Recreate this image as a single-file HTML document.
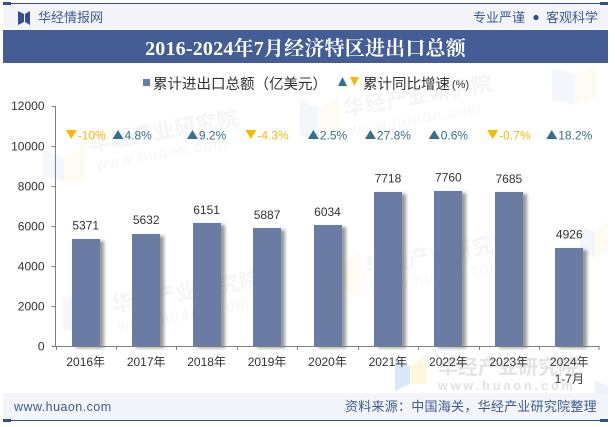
<!DOCTYPE html>
<html lang="zh">
<head>
<meta charset="utf-8">
<title>2016-2024年7月经济特区进出口总额</title>
<style>
html,body{margin:0;padding:0;background:#fff;}
body{width:615px;height:427px;overflow:hidden;position:relative;}
svg{position:absolute;left:0;top:0;display:block;}
text{font-family:"Liberation Sans","Noto Sans CJK SC",sans-serif;}
</style>
</head>
<body>
<svg id="chart" width="615" height="427" viewBox="0 0 615 427" xmlns="http://www.w3.org/2000/svg">
  <defs>
    <filter id="barShadow" x="-20%" y="-5%" width="160%" height="110%">
      <feDropShadow dx="4" dy="2" stdDeviation="1.6" flood-color="#555" flood-opacity="0.6"/>
    </filter>
  </defs>

  <g id="watermarks">
    <g>
      <polygon points="43,150 64,158 64,182 43,175" fill="#f3f7fc"/>
      <polygon points="64,158 85,145 85,180 64,182" fill="#fefcf2"/>
    </g>
    <g>
      <polygon points="300,100 318,108 318,140 300,135" fill="#f3f7fc"/>
      <polygon points="318,108 338,96 338,132 318,140" fill="#fefcf2"/>
    </g>
    <g>
      <polygon points="63,295 82,302 82,330 63,330" fill="#f4f8fc"/>
    </g>
    <g>
      <polygon points="343,262 361,252 361,297 343,290" fill="#fefcf2"/>
    </g>
    <g>
      <polygon points="580,225 595,232 595,258 580,252" fill="#f3f7fc"/>
      <polygon points="595,232 608,220 608,250 595,258" fill="#fefcf2"/>
    </g>
    <g>
      <polygon points="552,68 575,74 575,105 552,100" fill="#f3f7fc"/>
      <polygon points="575,74 597,64 597,98 575,105" fill="#fefcf2"/>
    </g>
    <g transform="rotate(-10 91 151)">
      <text x="91" y="151" font-size="21" font-weight="700" fill="#f5f5f5" letter-spacing="0.6">华经产业研究院</text>
      <text x="93" y="171" font-size="16" fill="#f6f6f6" letter-spacing="1.3">www.huaon.com</text>
    </g>
    <g transform="rotate(-10 345 116)">
      <text x="345" y="116" font-size="21" font-weight="700" fill="#f5f5f5" letter-spacing="0.6">华经产业研究院</text>
      <text x="347" y="136" font-size="16" fill="#f6f6f6" letter-spacing="1.3">www.huaon.com</text>
    </g>
    <g transform="rotate(-10 113 312)">
      <text x="113" y="312" font-size="21" font-weight="700" fill="#f5f5f5" letter-spacing="0.6">华经产业研究院</text>
      <text x="115" y="332" font-size="16" fill="#f6f6f6" letter-spacing="1.3">www.huaon.com</text>
    </g>
    <g transform="rotate(-10 367 274)">
      <text x="367" y="274" font-size="21" font-weight="700" fill="#f5f5f5" letter-spacing="0.6">华经产业研究院</text>
      <text x="369" y="294" font-size="16" fill="#f6f6f6" letter-spacing="1.3">www.huaon.com</text>
    </g>
    <polygon points="395,358 410,366 410,384 395,391" fill="#dbe8f9"/>
    <polygon points="410,366 426,356 426,384 410,384" fill="#fdf7dc"/>
    <text x="438" y="374" font-size="20" font-weight="700" fill="#e4e4e4">华经产业研究院</text>
    <text x="438" y="390" font-size="12.5" font-weight="700" fill="#e2e2e2" letter-spacing="3">www.huaon.com</text>
    <polygon points="595,381 608,385 608,393 595,393" fill="#eef3fb"/>
  </g>

  <rect x="3" y="3" width="605" height="27" fill="#f3f5fa"/>
  <rect x="3" y="3" width="605" height="1" fill="#2f4f8f"/>
  <rect x="3" y="2" width="8" height="3" fill="#2f4f8f"/>
  <rect x="600" y="2" width="8" height="3" fill="#2f4f8f"/>
  <g>
    <polygon points="18,11 24,14 24,22 18,25" fill="#2f4f8f"/>
    <polygon points="30,11 25,14 25,22 30,25" fill="#2f4f8f"/>
  </g>
  <text x="38" y="22" font-size="13" fill="#3a5a96">华经情报网</text>
  <text x="473" y="22" font-size="13" fill="#3a5a96">专业严谨</text>
  <circle cx="536" cy="17.5" r="2.6" fill="#2f4f8f"/>
  <text x="546" y="22" font-size="13" fill="#3a5a96">客观科学</text>

  <rect x="3" y="30" width="605" height="33" fill="#445d94"/>
  <text x="305.5" y="55" text-anchor="middle" font-size="20" font-weight="700" fill="#fff" letter-spacing="0.2" style="font-family:'Liberation Serif','Noto Serif CJK SC',serif">2016-2024年7月经济特区进出口总额</text>

  <g>
    <rect x="143" y="79" width="7" height="7" fill="#6a7ca3"/>
    <text x="153" y="89" font-size="14.5" fill="#333">累计进出口总额&#xFF08;亿美元&#xFF09;</text>
    <polygon points="338,86 342.5,77 347,86" fill="#37708f"/>
    <polygon points="350,77 359,77 354.5,86" fill="#fcb900"/>
    <text x="363" y="89" font-size="14.5" fill="#333">累计同比增速</text>
    <text x="452" y="88" font-size="11" fill="#333">(%)</text>
  </g>

  <g id="plot"></g>

  <rect x="3" y="393" width="605" height="27" fill="#f3f5fa"/>
  <rect x="3" y="420" width="605" height="1" fill="#2f4f8f"/>
  <rect x="3" y="419" width="8" height="3" fill="#2f4f8f"/>
  <rect x="600" y="419" width="8" height="3" fill="#2f4f8f"/>
  <text x="14" y="411" font-size="12.5" fill="#3a5a96" letter-spacing="0.45" style="font-weight:500">www.huaon.com</text>
  <text x="345" y="411" font-size="13" fill="#3a5a96" letter-spacing="0.26">资料来源&#xFF1A;中国海关&#xFF0C;华经产业研究院整理</text>
</svg>

<script>
const categories = ['2016年','2017年','2018年','2019年','2020年','2021年','2022年','2023年','2024年'];
const categorySublabels = ['','','','','','','','','1-7月'];
const totalValues = [5371,5632,6151,5887,6034,7718,7760,7685,4926];
const growthValues = [-10,4.8,9.2,-4.3,2.5,27.8,0.6,-0.7,18.2];
const yTicks = [0,2000,4000,6000,8000,10000,12000];

const SVGNS = 'http://www.w3.org/2000/svg';
const plot = document.getElementById('plot');
const X0 = 55.5, X1 = 599.5, Y0 = 346, Y1 = 105.7, Y_MAX = 12000;
const BAR_W = 28, GROWTH_Y = 135, SECOND_LABEL_NUDGE = -14;
const AXIS = '#808080', INK = '#333333', BAR = '#6a7ca3', UP = '#37708f', DOWN = '#fcb900';

function yScale(v){ return Y0 - (v / Y_MAX) * (Y0 - Y1); }
function bandStart(i){ return X0 + i * (X1 - X0) / categories.length; }
function bandCenter(i){ return bandStart(i) + (X1 - X0) / categories.length / 2; }
function make(tag, props, parent){
  const el = document.createElementNS(SVGNS, tag);
  for (const k in props) el.setAttribute(k, props[k]);
  (parent || plot).appendChild(el);
  return el;
}

// bars and value labels
totalValues.forEach(function(v, i){
  const left = Math.round(bandCenter(i) - BAR_W / 2);
  const top = Math.round(yScale(v) + 0.3);
  const bar = make('rect', {x: left, y: top, width: BAR_W, height: Y0 - top, fill: BAR, filter: 'url(#barShadow)'});
  
  
  const label = make('text', {x: bandCenter(i), y: yScale(v) - 9, 'text-anchor': 'middle', 'font-size': 12, fill: INK});
  label.textContent = v;
  
  
});

// axes
const yAxis = make('line', {x1: X0, x2: X0, y1: Y1, y2: Y0, stroke: AXIS, 'stroke-width': 1});


const xAxis = make('line', {x1: X0, x2: X1, y1: Y0 + 0.5, y2: Y0 + 0.5, stroke: AXIS, 'stroke-width': 1});



yTicks.forEach(function(t){
  const y = yScale(t);
  const tick = make('line', {x1: X0 - 4, x2: X0, y1: Math.round(y) + 0.5, y2: Math.round(y) + 0.5, stroke: AXIS, 'stroke-width': 1});
  
  
  const label = make('text', {x: X0 - 11, y: y + 4.5, 'text-anchor': 'end', 'font-size': 12, fill: INK});
  label.textContent = t;
  
  
});

categories.forEach(function(c, i){
  const tickX = Math.round(bandStart(i)) - 0.5 + 1;
  const tick = make('line', {x1: tickX, x2: tickX, y1: Y0, y2: Y0 + 4, stroke: AXIS, 'stroke-width': 1});
  
  
  const label = make('text', {x: bandCenter(i), y: 366, 'text-anchor': 'middle', 'font-size': 12, fill: INK});
  label.textContent = c;
  
  
  if (categorySublabels[i]) {
    const sub = make('text', {x: bandCenter(i), y: 383, 'text-anchor': 'middle', 'font-size': 12, fill: INK});
    sub.textContent = categorySublabels[i];
    
    
  }
});
const lastTick = make('line', {x1: X1 - 0.5, x2: X1 - 0.5, y1: Y0, y2: Y0 + 4, stroke: AXIS, 'stroke-width': 1});



// growth markers
growthValues.forEach(function(v, i){
  const up = v >= 0;
  const color = up ? UP : DOWN;
  const text = make('text', {x: 0, y: GROWTH_Y + 4.5, 'font-size': 12, fill: color});
  text.textContent = v + '%';
  
  
  const tw = text.getComputedTextLength();
  const triW = 12;
  const total = triW + tw;
  const left = bandCenter(i) - total / 2 + (i === 1 ? SECOND_LABEL_NUDGE : 0);
  text.setAttribute('x', left + triW);
  const top = GROWTH_Y - 5, bot = GROWTH_Y + 4;
  const pts = up
    ? [[left, bot], [left + 5.5, top], [left + 11, bot]]
    : [[left, top], [left + 11, top], [left + 5.5, bot]];
  const tri = make('polygon', {points: pts.map(function(p){ return p.join(','); }).join(' '), fill: color});
  
  
});
</script>
</body>
</html>
